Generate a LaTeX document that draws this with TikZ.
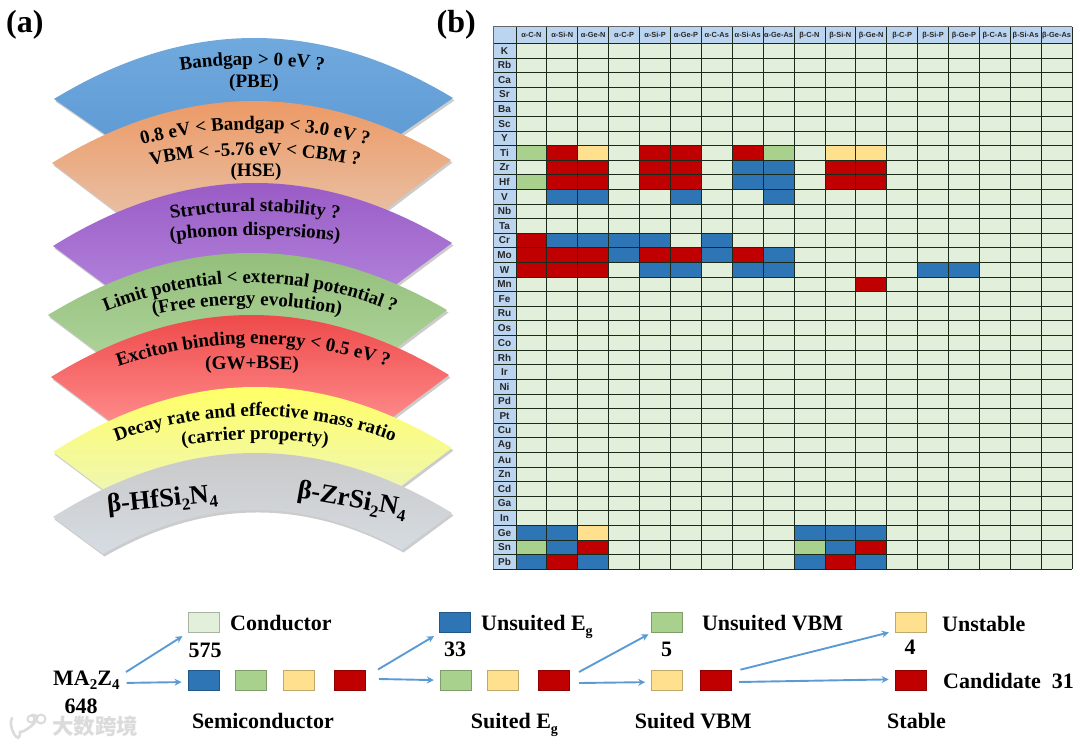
\documentclass[tikz,border=0pt]{standalone}
\usepackage{fontspec}
\setmainfont{Liberation Serif}
\newfontfamily\tabfont{Liberation Sans}
\newfontfamily\cjkfont{Noto Sans CJK SC}
\usetikzlibrary{arrows.meta,decorations.text,calc}
\definecolor{cellC}{HTML}{E2EFDA}
\definecolor{cellB}{HTML}{2E75B6}
\definecolor{cellG}{HTML}{A9D18E}
\definecolor{cellY}{HTML}{FFE08F}
\definecolor{cellR}{HTML}{C00000}
\definecolor{headfill}{HTML}{BBD5F0}
\definecolor{gridcol}{HTML}{1C2A1C}
\definecolor{arrowcol}{HTML}{5B9BD5}
\definecolor{bandA}{HTML}{70A9DD}\definecolor{bandAb}{HTML}{5F9BD5}
\definecolor{bandB}{HTML}{EC9A66}\definecolor{bandBb}{HTML}{E9BFA3}
\definecolor{bandC}{HTML}{9A5CC6}\definecolor{bandCb}{HTML}{B384DC}
\definecolor{bandD}{HTML}{93BF7B}\definecolor{bandDb}{HTML}{AED39A}
\definecolor{bandE}{HTML}{EE4A4A}\definecolor{bandEb}{HTML}{FF8C8C}
\definecolor{bandF}{HTML}{FFFF66}\definecolor{bandFb}{HTML}{EEF5B8}
\definecolor{bandH}{HTML}{C9C9C9}\definecolor{bandHb}{HTML}{D6DDE3}
\newcommand{\lowtxt}[2][14]{\raisebox{-0.22em}{\fontsize{#1}{#1}\selectfont #2}}
\def\innersag{0}
% lx ly rx ry peak dx dy top bottom
\newcommand{\drawband}[9]{%
  \pgfmathsetmacro{\ctly}{2*#5-(#2+#4)/2}
  \pgfmathsetmacro{\ctlx}{(#1+#3)/2}
  \pgfmathsetmacro{\ctlb}{(#2+#4)/2+#7-2*\innersag}
  \def\bandpath{(#1,#2) .. controls ({#1+(\ctlx-#1)*2/3},{#2+(\ctly-#2)*2/3}) and ({#3+(\ctlx-#3)*2/3},{#4+(\ctly-#4)*2/3}) .. (#3,#4)
    -- ({#3-#6},{#4+#7}) .. controls ({#3-#6+(\ctlx-#3+#6)*2/3},{#4+#7+(\ctlb-#4-#7)*2/3}) and ({#1+#6+(\ctlx-#1-#6)*2/3},{#2+#7+(\ctlb-#2-#7)*2/3}) .. ({#1+#6},{#2+#7}) -- cycle}
  \fill[black!20,xshift=1.5pt,yshift=-2.5pt] \bandpath;
  \begin{scope}
    \clip \bandpath;
    \shade[top color=#8,bottom color=#9] ({#1-5},#5) rectangle ({#3+5},{#2+#7+3});
  \end{scope}
}
% cx peak drop(at 120) size text
\newcommand{\curvedtext}[5]{%
  \pgfmathsetmacro{\dropb}{#3*2.007}
  \path[decorate,decoration={text along path,text align={center},
     text={|\bfseries\fontsize{#4}{#4}\selectfont|#5}}]
    ({#1-170},{#2+\dropb}) .. controls ({#1-170/3},{#2-\dropb/3}) and ({#1+170/3},{#2-\dropb/3}) .. ({#1+170},{#2+\dropb});
}
\tikzset{
  swatch/.style={rectangle,draw=#1!75!black,fill=#1,minimum width=31pt,minimum height=20pt,inner sep=0pt,line width=.7pt},
  lab/.style={inner sep=0pt,anchor=base west,font=\bfseries\fontsize{22}{22}\selectfont},
  num/.style={inner sep=0pt,anchor=base,font=\bfseries\fontsize{22}{22}\selectfont},
  arr/.style={draw=arrowcol,line width=1.9pt,-{Stealth[length=7pt,width=7pt]}},
  panel/.style={inner sep=0pt,anchor=base west,font=\bfseries\fontsize{32}{32}\selectfont},
  headtxt/.style={inner sep=0pt,font=\tabfont\bfseries\fontsize{7.4}{7.4}\selectfont,text=black!85},
  rowtxt/.style={inner sep=0pt,font=\tabfont\bfseries\fontsize{10}{10}\selectfont,text=black!85},
  bandtxt/.style={inner sep=0pt,anchor=base,font=\bfseries\fontsize{19}{19}\selectfont},
  matname/.style={inner sep=0pt,anchor=base,font=\bfseries\fontsize{26.5}{26.5}\selectfont},
}
\begin{document}
\begin{tikzpicture}[x=1pt,y=-1pt]
\useasboundingbox (0,0) rectangle (1080,745);
\node[panel] (pa) at (6,32.7) {(a)};
\node[panel] (pb) at (436.5,32.7) {(b)};
% ---- funnel
\drawband{54}{99}{453}{98}{38}{52}{36}{bandA}{bandAb}
\drawband{52}{163}{451}{160}{101}{66}{50}{bandB}{bandBb}
\drawband{53}{246}{452}{243}{183}{70}{52}{bandC}{bandCb}
\drawband{48}{315}{447}{310}{253}{60}{45}{bandD}{bandDb}
\drawband{51}{377}{449}{375}{315}{60}{45}{bandE}{bandEb}
\drawband{53}{452}{452}{448}{387}{60}{45}{bandF}{bandFb}
\def\innersag{42}
\drawband{53}{517}{452}{513}{453}{50}{37}{bandH}{bandHb}
\curvedtext{252}{65}{15}{19}{Bandgap > 0 eV ?}
\node[bandtxt] (t1) at (254,87.5) {(PBE)};
\curvedtext{255}{129.5}{17}{19}{0.8 eV < Bandgap < 3.0 eV ?}
\curvedtext{255}{155}{14}{19}{VBM < -5.76 eV < CBM ?}
\node[bandtxt] (t2) at (256,176) {(HSE)};
\curvedtext{255}{211.5}{15}{19}{Structural stability ?}
\curvedtext{255}{235.5}{11}{19}{(phonon dispersions)}
\curvedtext{250}{283}{20}{18.8}{Limit potential < external potential ?}
\curvedtext{247}{305}{16}{19}{(Free energy evolution)}
\curvedtext{253}{344}{18}{19}{Exciton binding energy < 0.5 eV ?}
\curvedtext{252}{369}{5}{19}{(GW+BSE)}
\curvedtext{255}{416}{19}{19}{Decay rate and effective mass ratio}
\curvedtext{255}{439.5}{15}{19}{(carrier property)}
\node[matname,rotate=6] (m1) at (163,507) {β-HfSi\lowtxt[17]{2}N\lowtxt[17]{4}};
\node[matname,rotate=-10] (m2) at (351,507) {β-ZrSi\lowtxt[17]{2}N\lowtxt[17]{4}};
% ---- table
\def\tx{516}\def\cw{30.89}\def\ty{43.3}\def\rh{14.61}
\fill[headfill] (493,26.7) rectangle (1072,43.3);
\fill[headfill] (493,26.7) rectangle (516,569.3);
\fill[cellC] (516,43.3) rectangle (1072,569.3);
\foreach \ri/\ci/\k in {
 8/1/G,8/2/R,8/3/Y,8/5/R,8/6/R,8/8/R,8/9/G,8/11/Y,8/12/Y,
 9/2/R,9/3/R,9/5/R,9/6/R,9/8/B,9/9/B,9/11/R,9/12/R,
 10/1/G,10/2/R,10/3/R,10/5/R,10/6/R,10/8/B,10/9/B,10/11/R,10/12/R,
 11/2/B,11/3/B,11/6/B,11/9/B,
 14/1/R,14/2/B,14/3/B,14/4/B,14/5/B,14/7/B,
 15/1/R,15/2/R,15/3/R,15/4/B,15/5/R,15/6/R,15/7/B,15/8/R,15/9/B,
 16/1/R,16/2/R,16/3/R,16/5/B,16/6/B,16/8/B,16/9/B,16/14/B,16/15/B,
 17/12/R,
 34/1/B,34/2/B,34/3/Y,34/10/B,34/11/B,34/12/B,
 35/1/G,35/2/B,35/3/R,35/10/G,35/11/B,35/12/R,
 36/1/B,36/2/R,36/3/B,36/10/B,36/11/R,36/12/B}
 \fill[cell\k] ({\tx+\cw*(\ci-1)},{\ty+\rh*(\ri-1)}) rectangle ({\tx+\cw*\ci},{\ty+\rh*\ri});
\foreach \ci in {0,...,18}
 \draw[gridcol,line width=.8pt] ({\tx+\cw*\ci},26.7) -- ({\tx+\cw*\ci},569.3);
\foreach \ri in {0,...,36}
 \draw[gridcol,line width=.8pt] (493,{\ty+\rh*\ri}) -- (1072,{\ty+\rh*\ri});
\draw[black!60,line width=.8pt] (493,569.3) -- (493,26.7) -- (1072,26.7);
\foreach \lab [count=\i] in {α-C-N,α-Si-N,α-Ge-N,α-C-P,α-Si-P,α-Ge-P,α-C-As,α-Si-As,α-Ge-As,β-C-N,β-Si-N,β-Ge-N,β-C-P,β-Si-P,β-Ge-P,β-C-As,β-Si-As,β-Ge-As}
 \node[headtxt] (col\i) at ({\tx+\cw*(\i-.5)},35.2) {\lab};
\foreach \lab [count=\i] in {K,Rb,Ca,Sr,Ba,Sc,Y,Ti,Zr,Hf,V,Nb,Ta,Cr,Mo,W,Mn,Fe,Ru,Os,Co,Rh,Ir,Ni,Pd,Pt,Cu,Ag,Au,Zn,Cd,Ga,In,Ge,Sn,Pb}
 \node[rowtxt] (row\i) at (504.5,{\ty+\rh*(\i-.5)}) {\lab};
% ---- legend flow
\node[swatch=cellC] (cond) at (203.4,622.6) {};
\node[swatch=cellB] (sb) at (203.4,680) {};
\node[swatch=cellG] (sg) at (250.7,680) {};
\node[swatch=cellY] (sy) at (298.9,680) {};
\node[swatch=cellR] (sr) at (349.5,680) {};
\node[swatch=cellB] (ue) at (455,622.7) {};
\node[swatch=cellG] (ge) at (455.7,680) {};
\node[swatch=cellY] (ye) at (503,680) {};
\node[swatch=cellR] (re) at (554,680) {};
\node[swatch=cellG] (uv) at (667,622.5) {};
\node[swatch=cellY] (yv) at (667,680.8) {};
\node[swatch=cellR] (rv) at (715.6,680.8) {};
\node[swatch=cellY] (us) at (910.5,622.5) {};
\node[swatch=cellR] (cand) at (910.5,680.8) {};
\node[lab] (ma) at (53,685) {MA\lowtxt[15]{2}Z\lowtxt[15]{4}};
\node[num] (n648) at (81,713.3) {648};
\node[lab] (lcond) at (230,630.8) {Conductor};
\node[num] (n575) at (205,657) {575};
\node[lab] (lsemi) at (191.8,728.8) {Semiconductor};
\node[lab] (lue) at (481,630.8) {Unsuited E\lowtxt{g}};
\node[num] (n33) at (455,656) {33};
\node[lab] (lse) at (470.7,728.8) {Suited E\lowtxt{g}};
\node[lab] (luv) at (701.8,630.8) {Unsuited VBM};
\node[num] (n5) at (666.7,656) {5};
\node[lab] (lsv) at (634.7,728.8) {Suited VBM};
\node[lab] (lus) at (942,631.5) {Unstable};
\node[num] (n4) at (910,654) {4};
\node[lab] (lca) at (943,688.3) {Candidate\ \ 31};
\node[lab] (lst) at (887,728.8) {Stable};
\coordinate (a1) at (126,672);
\coordinate (a2) at (126.7,682.9);
\coordinate (a3) at (378,669.5);
\coordinate (a4) at (378.8,679);
\coordinate (a5) at (579,672);
\coordinate (a6) at (579,683);
\coordinate (a7) at (740.4,669.7);
\coordinate (a8) at (739,682);
\draw[arr,shorten >=6pt] (a1) -- (cond.south west);
\draw[arr,shorten >=6pt] (a2) -- ([yshift=-2pt]sb.west);
\draw[arr,shorten >=6pt] (a3) -- (ue.south west);
\draw[arr,shorten >=6pt] (a4) -- ([yshift=-.2pt]ge.west);
\draw[arr,shorten >=3pt] (a5) -- (uv.south west);
\draw[arr,shorten >=6pt] (a6) -- ([yshift=-1.3pt]yv.west);
\draw[arr,shorten >=6pt] (a7) -- ([yshift=-8.5pt]us.west);
\draw[arr,shorten >=6pt] (a8) -- ([yshift=1.5pt]cand.west);
% ---- watermark
\node[inner sep=0pt,anchor=west,text=black!14,font=\cjkfont\bfseries\fontsize{21.5}{21.5}\selectfont] (wm) at (52,726) {大数跨境};
\draw[black!14,line width=2.6pt,line cap=round] (wm.west) ++(-40,-8) .. controls +(-5,8) and +(0,16) .. +(8,14) .. controls +(7,0) and +(14,0) .. +(20,-3);
\draw[black!14,line width=2pt] (31,719) circle (3.5pt) (41,719) circle (4.5pt);
\end{tikzpicture}
\end{document}
